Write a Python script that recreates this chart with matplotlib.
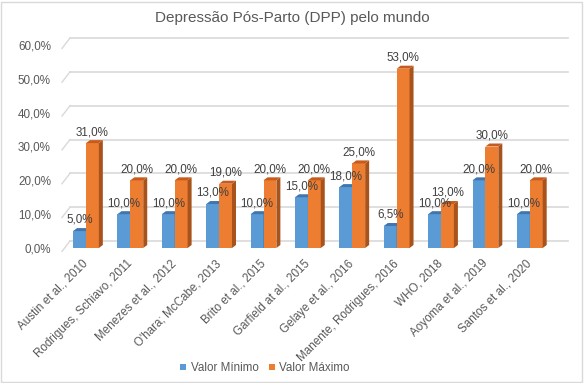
import numpy as np
import matplotlib.pyplot as plt
from matplotlib.patches import Polygon, Rectangle, Patch
from matplotlib.transforms import ScaledTranslation

plt.rcParams['font.family'] = ['Liberation Sans', 'DejaVu Sans']

# data
studies = ["Austin et al., 2010", "Rodrigues, Schiavo, 2011", "Menezes et al., 2012",
           "O'hara; McCabe, 2013", "Brito et al., 2015", "Garfield at al., 2015",
           "Gelaye et al., 2016", "Manente, Rodrigues, 2016", "WHO, 2018",
           "Aoyoma et al., 2019", "Santos et al., 2020"]
valor_min = [5.0, 10.0, 10.0, 13.0, 10.0, 15.0, 18.0, 6.5, 10.0, 20.0, 10.0]
valor_max = [31.0, 20.0, 20.0, 19.0, 20.0, 20.0, 25.0, 53.0, 13.0, 30.0, 20.0]

gray = "#595959"
blue, blue_top, blue_side = "#5B9BD5", "#3F76B0", "#41719C"
orange, orange_top, orange_side = "#ED7D31", "#C65B1C", "#A9531C"

W, H = 584, 383
fig = plt.figure(figsize=(W / 100, H / 100), dpi=100)
ax = fig.add_axes([62 / W, 135 / H, 498 / W, 203 / H])
xlim = (-0.54, 10.68)
ax.set_xlim(*xlim)
ax.set_ylim(0, 60)

# 3D depth in pixels -> data units
px_x = 498 / (xlim[1] - xlim[0])
px_y = 203 / 60
ddx, ddy = 4 / px_x, 3 / px_y

# back-wall gridlines with a small floor stub on the left
for v in range(0, 61, 10):
    off = ScaledTranslation(8 / 100, 7 / 100, fig.dpi_scale_trans)
    ax.plot([0, 1], [v, v], color="#D9D9D9", lw=1.2,
            transform=ax.get_yaxis_transform() + off, zorder=0, clip_on=False)
    ax.plot([0, 8 / 498], [v - 1.0, v + 7 / px_y], color="#D9D9D9", lw=1.0,
            transform=ax.get_yaxis_transform(), zorder=0, clip_on=False)

x = np.arange(len(studies))
w = 0.29


def bar3d(x0, h, front, top, side):
    x1 = x0 + w
    ax.add_patch(Rectangle((x0, 0), w, h, facecolor=front, edgecolor="none", zorder=2))
    ax.add_patch(Polygon([(x1, 0), (x1, h), (x1 + ddx, h + ddy), (x1 + ddx, ddy)],
                         facecolor=side, edgecolor="none", zorder=2))
    ax.add_patch(Polygon([(x0, h), (x1, h), (x1 + ddx, h + ddy), (x0 + ddx, h + ddy)],
                         facecolor=top, edgecolor="none", zorder=2))


for i in range(len(studies)):
    bar3d(x[i] - w, valor_min[i], blue, blue_top, blue_side)
    bar3d(x[i], valor_max[i], orange, orange_top, orange_side)

lab = lambda v: f"{v:.1f}%".replace(".", ",")
for i in range(len(studies)):
    ax.annotate(lab(valor_min[i]), (x[i] - w / 2, valor_min[i] + ddy), xytext=(0, 1.5),
                textcoords="offset points", ha="center", va="bottom", fontsize=8.4,
                color="#404040", zorder=5)
    ax.annotate(lab(valor_max[i]), (x[i] + w / 2, valor_max[i] + ddy), xytext=(0, 1.5),
                textcoords="offset points", ha="center", va="bottom", fontsize=8.4,
                color="#404040", zorder=5)

ax.set_yticks(range(0, 61, 10))
ax.set_yticklabels([lab(v) for v in range(0, 61, 10)], fontsize=8.4, color=gray)
ax.set_xticks(x)
ax.set_xticklabels(studies, rotation=45, ha="right", rotation_mode="anchor",
                   fontsize=8.4, color=gray)
ax.tick_params(length=0)
ax.tick_params(axis="x", pad=7)
ax.tick_params(axis="y", pad=8)
shift = ScaledTranslation(-4 / 100, 0, fig.dpi_scale_trans)
for t in ax.get_xticklabels():
    t.set_transform(t.get_transform() + shift)
for s in ax.spines.values():
    s.set_visible(False)
ax.patch.set_alpha(0)

fig.text(0.5, 1 - 18 / H, "Depressão Pós-Parto (DPP) pelo mundo", ha="center",
         va="center", fontsize=11, color=gray)

handles = [Patch(facecolor=blue), Patch(facecolor=orange)]
fig.legend(handles, ["Valor Mínimo", "Valor Máximo"], loc="center",
           bbox_to_anchor=(265 / W, 1 - 368 / H), ncol=2, frameon=False, fontsize=8.4,
           handlelength=0.5, handleheight=0.5, handletextpad=0.4, columnspacing=0.9,
           labelcolor=gray)

fig.add_artist(Rectangle((1 / W, 1 / H), 1 - 3 / W, 1 - 3 / H, transform=fig.transFigure,
                         facecolor="none", edgecolor="#D9D9D9", lw=1))

fig.savefig("out.png", dpi=100)
